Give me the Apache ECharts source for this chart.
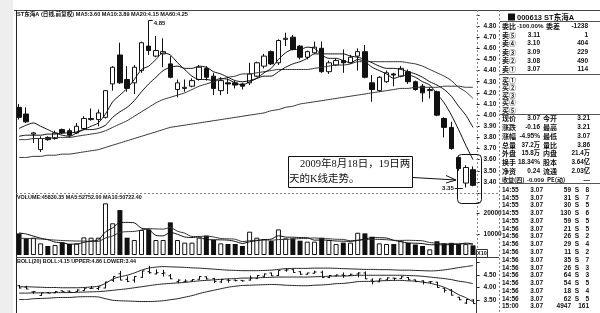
<!DOCTYPE html>
<html><head><meta charset="utf-8">
<script src="https://cdn.jsdelivr.net/npm/echarts@6/dist/echarts.min.js"></script>
<style>html,body{margin:0;padding:0;background:#fff}#c{width:600px;height:313px}</style>
</head><body><div id="c"></div>
<script>
// ---------------- data ----------------
const categories = [
 '2009-05-20','2009-05-21','2009-05-22','2009-05-25','2009-05-26','2009-05-27',
 '2009-06-01','2009-06-02','2009-06-03','2009-06-04','2009-06-05','2009-06-08','2009-06-09','2009-06-10','2009-06-11','2009-06-12',
 '2009-06-15','2009-06-16','2009-06-17','2009-06-18','2009-06-19','2009-06-22','2009-06-23','2009-06-24','2009-06-25','2009-06-26','2009-06-29','2009-06-30',
 '2009-07-01','2009-07-02','2009-07-03','2009-07-06','2009-07-07','2009-07-08','2009-07-09','2009-07-10','2009-07-13','2009-07-14','2009-07-15','2009-07-16','2009-07-17',
 '2009-07-20','2009-07-21','2009-07-22','2009-07-23','2009-07-24','2009-07-27','2009-07-28','2009-07-29','2009-07-30','2009-07-31',
 '2009-08-03','2009-08-04','2009-08-05','2009-08-06','2009-08-07','2009-08-10','2009-08-11','2009-08-12','2009-08-13','2009-08-14','2009-08-17','2009-08-18','2009-08-19'
];
const openP  = [4.07,4.01,3.83,3.69,3.80,3.79,3.87,3.86,3.84,3.88, 3.96,3.96,3.98,4.28,4.54,4.32,4.29,4.40,4.62,4.53,
                4.55,4.46,4.23,4.24,4.26,4.32,4.42,4.35,4.22,4.29, 4.29,4.28,4.29,4.35,4.44,4.57,4.47,4.68,4.70,4.62,
                4.52,4.56,4.60,4.39,4.45,4.49,4.47,4.53,4.57,4.29, 4.22,4.30,4.37,4.35,4.39,4.30,4.26,4.22,4.21,3.97,
                3.89,3.62,3.39,3.51];
const closeP = [3.98,3.94,3.84,3.79,3.78,3.84,3.84,3.82,3.90,3.97, 3.97,4.02,4.22,4.43,4.29,4.24,4.43,4.65,4.58,4.58,
                4.57,4.34,4.29,4.25,4.31,4.43,4.34,4.24,4.31,4.28, 4.27,4.26,4.37,4.47,4.53,4.46,4.67,4.69,4.59,4.52,
                4.57,4.61,4.39,4.47,4.49,4.47,4.52,4.57,4.34,4.23, 4.34,4.38,4.36,4.42,4.30,4.23,4.20,4.23,4.00,3.89,
                3.70,3.52,3.53,3.37];
const lowP   = [3.96,3.93,3.75,3.67,3.77,3.78,3.83,3.80,3.83,3.87, 3.95,3.90,3.97,4.22,4.28,4.21,4.19,4.38,4.54,4.52,
                4.43,4.33,4.16,4.21,4.25,4.31,4.31,4.18,4.18,4.19, 4.24,4.23,4.27,4.34,4.42,4.45,4.45,4.62,4.58,4.50,
                4.50,4.55,4.38,4.37,4.44,4.38,4.46,4.40,4.33,4.12, 4.21,4.29,4.26,4.34,4.28,4.22,4.12,4.15,3.99,3.80,
                3.69,3.50,3.35,3.36];
const highP  = [4.10,4.07,3.85,3.81,3.81,3.86,3.88,3.88,3.93,3.99, 4.06,4.05,4.22,4.44,4.65,4.44,4.45,4.66,4.85,4.71,
                4.69,4.53,4.32,4.32,4.33,4.45,4.44,4.38,4.34,4.33, 4.31,4.29,4.47,4.48,4.55,4.58,4.68,4.74,4.72,4.63,
                4.58,4.66,4.66,4.49,4.51,4.59,4.54,4.60,4.63,4.36, 4.35,4.40,4.38,4.44,4.41,4.31,4.28,4.25,4.22,3.98,
                3.94,3.63,3.55,3.54];
const ma5  = [3.88,3.91,3.93,3.90,3.87,3.84,3.82,3.81,3.84,3.87, 3.90,3.93,4.01,4.12,4.18,4.24,4.32,4.41,4.44,4.50,
              4.56,4.54,4.47,4.41,4.35,4.32,4.32,4.31,4.33,4.32, 4.29,4.27,4.30,4.33,4.38,4.42,4.50,4.56,4.59,4.59,
              4.61,4.60,4.54,4.51,4.51,4.49,4.47,4.50,4.48,4.43, 4.40,4.37,4.33,4.35,4.36,4.34,4.30,4.27,4.19,4.11,
              4.00,3.87,3.73,3.60];
const ma10 = [3.81,3.82,3.82,3.82,3.83,3.83,3.84,3.84,3.85,3.87, 3.87,3.88,3.91,3.98,4.03,4.07,4.13,4.21,4.28,4.34,
              4.40,4.43,4.44,4.42,4.42,4.44,4.43,4.39,4.37,4.34, 4.31,4.30,4.31,4.33,4.35,4.35,4.39,4.43,4.46,4.48,
              4.51,4.55,4.55,4.55,4.55,4.55,4.53,4.52,4.50,4.47, 4.44,4.42,4.42,4.41,4.39,4.37,4.34,4.30,4.27,4.23,
              4.17,4.08,4.00,3.89];
const ma20 = [3.78,3.78,3.79,3.79,3.79,3.80,3.80,3.80,3.81,3.82, 3.83,3.84,3.86,3.89,3.92,3.95,3.99,4.03,4.07,4.11,
              4.14,4.16,4.18,4.20,4.23,4.26,4.28,4.30,4.32,4.34, 4.35,4.37,4.37,4.38,4.39,4.40,4.41,4.41,4.41,4.41,
              4.41,4.42,4.43,4.44,4.45,4.45,4.46,4.48,4.48,4.48, 4.48,4.48,4.48,4.48,4.47,4.46,4.44,4.41,4.38,4.35,
              4.31,4.25,4.21,4.15];
const ma60 = [3.62,3.62,3.63,3.63,3.64,3.64,3.65,3.65,3.66,3.67, 3.68,3.69,3.71,3.73,3.75,3.77,3.79,3.81,3.83,3.85,
              3.87,3.89,3.90,3.91,3.92,3.93,3.94,3.95,3.96,3.97, 3.98,3.99,4.00,4.01,4.02,4.04,4.05,4.07,4.08,4.10,
              4.11,4.12,4.13,4.14,4.15,4.16,4.17,4.18,4.19,4.20, 4.21,4.22,4.23,4.24,4.24,4.25,4.25,4.25,4.25,4.26,
              4.26,4.26,4.25,4.25];
const volume = [10300,7950,8250,5550,4300,4750,6050,5250,5550,8400, 8250,8250,24600,15100,21400,8250,7150,11900,12200,7150,
                7150,15550,7150,5900,5900,8250,9200,7150,5550,5250, 5250,4300,11100,8250,7600,6650,12200,7950,7950,6800,
                6350,6350,8250,7150,5250,5900,5900,10600,10300,8700, 5550,5250,5250,6800,5800,5000,4300,2700,6550,5600,
                5800,5200,5200,4583];
const volMa5 = [10500,10000,9000,8000,7270,6160,5780,5180,5180,6000, 6700,7140,11010,12920,15520,15520,15300,12760,12180,9330,
                9110,10790,9840,8580,8330,8550,7280,7280,7210,7080, 6480,5500,6290,6830,7300,7580,9160,8530,8470,8310,
                8250,7080,7140,6980,6670,6580,6490,6960,7590,8280, 8210,8080,7010,6310,5730,5620,5430,4920,4870,4830,
                4990,5170,5670,5275];
const volMa10 = [8000,7900,7800,7600,7400,7100,6900,6750,6650,6635, 6430,6460,8095,9050,10760,11110,11220,11885,12550,12425,
                 12315,13045,11300,10380,8830,8830,9035,8560,7895,7705, 7515,6390,6785,7020,7190,7030,7330,7410,7650,7805,
                 7915,8120,7835,7725,7490,7415,6785,7050,7285,7475, 7395,7285,6985,6950,7005,6915,6755,5965,5590,5280,
                 5305,5300,5295,5072];
const bollUpper = [4.03,4.03,4.02,4.01,4.00,4.00,3.99,3.99,3.99,4.00, 4.02,4.05,4.16,4.33,4.42,4.48,4.57,4.68,4.76,4.80,
                   4.82,4.81,4.80,4.79,4.77,4.76,4.74,4.72,4.70,4.68, 4.67,4.66,4.66,4.66,4.67,4.68,4.71,4.74,4.75,4.75,
                   4.75,4.76,4.76,4.76,4.75,4.74,4.73,4.72,4.71,4.71, 4.70,4.70,4.69,4.68,4.68,4.67,4.66,4.65,4.66,4.69,
                   4.73,4.78,4.82,4.86];
const bollMid = [3.78,3.78,3.79,3.79,3.79,3.80,3.80,3.80,3.81,3.82, 3.83,3.84,3.86,3.89,3.92,3.95,3.99,4.03,4.07,4.11,
                 4.14,4.16,4.18,4.20,4.23,4.26,4.28,4.30,4.32,4.34, 4.35,4.37,4.37,4.38,4.39,4.40,4.41,4.41,4.41,4.41,
                 4.41,4.42,4.43,4.44,4.45,4.45,4.46,4.48,4.48,4.48, 4.48,4.48,4.48,4.48,4.47,4.46,4.44,4.41,4.38,4.35,
                 4.31,4.25,4.21,4.15];
const bollLower = [3.53,3.53,3.56,3.57,3.58,3.60,3.61,3.61,3.63,3.64, 3.64,3.63,3.56,3.50,3.48,3.47,3.46,3.45,3.45,3.46,
                   3.48,3.52,3.56,3.62,3.68,3.76,3.83,3.89,3.95,4.01, 4.05,4.08,4.09,4.10,4.11,4.12,4.11,4.09,4.08,4.07,
                   4.07,4.09,4.10,4.12,4.15,4.16,4.19,4.23,4.24,4.24, 4.26,4.27,4.28,4.28,4.26,4.25,4.21,4.17,4.10,4.01,
                   3.88,3.72,3.60,3.44];

// texts
const mainTitle = 'ST东海A (日线,前复权) MA5:3.60 MA10:3.89 MA20:4.15 MA60:4.25';
const volTitle = 'VOLUME:45830.35 MA5:52752.00 MA10:50722.40';
const bollTitle = 'BOLL(20) BOLL:4.15 UPPER:4.86 LOWER:3.44';
const noteLines = ['2009年8月18日，19日两', '天的K线走势。'];
const panelHeader = '000613 ST东海A';
const orderRow = ['委比', '-100.00%', '委差', '-1238'];
const sellLabels = ['卖⑤','卖④','卖③','卖②','卖①'];
const sellPrices = ['3.11','3.10','3.09','3.08','3.07'];
const sellVols = ['1','404','229','490','114'];
const buyLabels = ['买①','买②','买③','买④','买⑤'];
const quoteLabels1 = ['现价','涨跌','涨幅','总量','外盘','换手','净资','收益(四)'];
const quoteValues1 = ['3.07','-0.16','-4.95%','37.2万','15.8万','18.34%','0.24','-0.009'];
const quoteLabels2 = ['今开','最高','最低','量比','内盘','股本','流通','PE(动)'];
const quoteValues2 = ['3.21','3.21','3.07','3.86','21.4万','3.64亿','2.03亿','—'];
const tickTimes = ['14:55','14:55','14:55','14:55','14:55','14:56','14:56','14:56','14:56','14:56','14:56','14:56','14:56','14:56','14:56','15:00'];
const tickPrices = ['3.07','3.07','3.07','3.07','3.07','3.07','3.07','3.07','3.07','3.07','3.07','3.07','3.07','3.07','3.07','3.07'];
const tickVols = ['59','31','30','130','59','21','26','29','11','35','26','64','54','18','62','4947'];
const tickSides = ['S','S','S','S','S','S','S','S','S','S','S','S','S','S','S',''];
const tickCounts = ['8','7','5','6','5','5','2','4','2','7','3','3','5','4','5','161'];

// ---------------- chart ----------------
const chart = echarts.init(document.getElementById('c'), null, {renderer:'canvas'});
const L = 15.4, W = 461.2;
const FF = '"Liberation Sans","Noto Sans CJK SC",sans-serif';
const CF = '"Noto Sans CJK SC",sans-serif';
const PF = 'bold 6.5px ' + FF;
const LF = 'bold 7px ' + CF;
const isUp = i => closeP[i] >= openP[i];

function axisLbl(fmt){
  return {margin:7, fontSize:6.5, fontWeight:'bold', color:'#111', fontFamily:FF, formatter:fmt};
}
const yBase = {position:'right', splitLine:{show:false}, axisLine:{show:false},
  axisTick:{show:true, length:3, lineStyle:{color:'#222'}}};

const g = [];
function T(x, y, s, align, font, extra){
  g.push(Object.assign({type:'text', x:x, y:y, silent:true, z:50,
    style:{text:s, font:font||PF, fill:'#111', align:align||'left', verticalAlign:'middle'}}, extra||{}));
}
function Ln(x1,y1,x2,y2,dash,color,w){
  g.push({type:'line', silent:true, z:40, shape:{x1,y1,x2,y2},
    style:{stroke:color||'#333', lineWidth:w||1, lineDash:dash||null}});
}
// frame
g.push({type:'rect', silent:true, z:1, shape:{x:0,y:0,width:13,height:313}, style:{fill:'#eeeeee'}});
Ln(14,10.5,600,10.5,null,'#444');
Ln(16.5,10,16.5,313,null,'#222');
Ln(16,193.5,499,193.5,[2,2],'#888');
Ln(16,257.5,499,257.5,null,'#444');
Ln(477.5,10,477.5,257,[2,2],'#888');
Ln(476.5,257,476.5,313,null,'#333');
Ln(499.5,10,499.5,313,[2,2],'#888');
g.push({type:'rect', silent:true, z:40, shape:{x:476.5,y:249.5,width:11,height:8}, style:{fill:'#fff', stroke:'#333', lineWidth:1}});
T(482, 253.5, 'X10', 'center', 'bold 5.5px '+FF);
// pane titles
T(17, 14.5, mainTitle, 'left', 'bold 5.6px '+FF);
T(17, 197.5, volTitle, 'left', 'bold 5.4px '+FF);
T(17, 261.5, bollTitle, 'left', 'bold 5.4px '+FF);
// annotation
g.push({type:'rect', silent:true, z:60, shape:{x:288.5,y:156.5,width:124,height:31}, style:{fill:'#fff', stroke:'#111', lineWidth:1}});
T(300, 164.5, noteLines[0], 'left', '10.5px "Liberation Serif","Noto Sans CJK SC",serif', {z:61});
T(289, 179, noteLines[1], 'left', '10.5px "Liberation Serif","Noto Sans CJK SC",serif', {z:61});
g.push({type:'polyline', silent:true, z:60, shape:{points:[[413,177.5],[456,180]]}, style:{stroke:'#111', lineWidth:1, fill:null}});
g.push({type:'polyline', silent:true, z:60, shape:{points:[[446,175.5],[456,180],[446,183]]}, style:{stroke:'#111', lineWidth:1, fill:null}});
g.push({type:'rect', silent:true, z:60, shape:{x:457.5,y:154.5,width:24,height:49,r:4}, style:{fill:null, stroke:'#111', lineWidth:1}});
// info panel
g.push({type:'rect', silent:true, z:50, shape:{x:508,y:13.5,width:7,height:7}, style:{fill:'#111'}});
T(517, 17.5, panelHeader, 'left', 'bold 7.5px '+FF);
Ln(500,21.5,600,21.5,null,'#555');
T(502, 26.5, orderRow[0], 'left', LF); T(517, 26.5, orderRow[1], 'left', 'bold 6.2px '+FF); T(546, 26.5, orderRow[2], 'left', LF); T(588, 26.5, orderRow[3], 'right');
sellLabels.forEach((s,k)=>{ const y=35+8.6*k; T(502,y,s,'left',LF); T(540,y,sellPrices[k],'right'); T(588,y,sellVols[k],'right'); });
Ln(500,74.5,600,74.5,null,'#555');
buyLabels.forEach((s,k)=>{ T(502, 80+7.6*k, s, 'left', LF); });
Ln(500,114.5,600,114.5,null,'#555');
quoteLabels1.forEach((s,k)=>{ const y=118.5+8.8*k;
  if (k === 7) {
    T(502,y,s,'left','bold 6px '+CF);
    T(527,y,quoteValues1[k],'left','bold 6px '+FF);
    T(547,y,quoteLabels2[k],'left','bold 6px '+CF);
    T(590,y,quoteValues2[k],'right');
    return;
  }
  T(502,y,s,'left',LF);
  T(540,y,quoteValues1[k],'right', /[万亿]/.test(quoteValues1[k]) ? 'bold 6.3px '+FF : PF);
  T(543,y,quoteLabels2[k],'left',LF);
  T(590,y,quoteValues2[k],'right', /[万亿]/.test(quoteValues2[k]) ? 'bold 6.3px '+FF : PF); });
Ln(500,183.5,600,183.5,null,'#555');
tickTimes.forEach((s,k)=>{ const y=190+7.78*k; T(502,y,s); T(543,y,tickPrices[k],'right'); T(571,y,tickVols[k],'right'); T(577,y,tickSides[k],'center'); T(589,y,tickCounts[k],'right'); });

const xAxes = [0,1,2].map(i=>({type:'category', gridIndex:i, data:categories, boundaryGap:true,
  axisLine:{show:false}, axisTick:{show:false}, axisLabel:{show:false}, splitLine:{show:false}}));

const lineS = (data, xi, color, w) => ({type:'line', xAxisIndex:xi, yAxisIndex:xi, data:data, symbol:'none', showSymbol:false,
  smooth:0.25, silent:true, z:3, lineStyle:{color:color, width:w||1}});

const option = {
  animation:false,
  backgroundColor:'#fff',
  grid:[
    {left:L, width:W, top:14.9, height:178.2},
    {left:L, width:W, top:202.5, height:52.5},
    {left:L, width:W, top:262, height:64}
  ],
  xAxis:xAxes,
  yAxis:[
    Object.assign({gridIndex:0, min:3.3, max:4.9, interval:0.1,
      axisLabel:axisLbl(v => (v < 3.35 || v > 4.85) ? '' : v.toFixed(2))}, yBase),
    Object.assign({gridIndex:1, min:0, max:25000, interval:10000,
      axisLabel:axisLbl(v => (v > 5000 && v < 22000) ? String(Math.round(v)) : '')}, yBase),
    Object.assign({gridIndex:2, min:3.0, max:5.0, interval:0.5,
      axisLabel:axisLbl(v => (v > 3.4 && v < 4.6) ? v.toFixed(2) : '')}, yBase)
  ],
  series:[
    {type:'candlestick', xAxisIndex:0, yAxisIndex:0, barWidth:5, silent:true,
      data:categories.map((c,i)=>[openP[i], closeP[i], lowP[i], highP[i]]),
      itemStyle:{color:'#fff', color0:'#111', borderColor:'#111', borderColor0:'#111', borderWidth:1},
      markPoint:{silent:true, animation:false, data:[
        {coord:[categories[18], 4.85], symbol:'rect', symbolSize:[4,1], symbolOffset:[2,0], itemStyle:{color:'#111'},
          label:{show:true, formatter:'4.85', position:'right', distance:1, offset:[0,3], fontSize:6, fontWeight:'bold', color:'#111', fontFamily:FF}},
        {coord:[categories[62], 3.35], symbol:'rect', symbolSize:[8,1], symbolOffset:[-7,1], itemStyle:{color:'#111'},
          label:{show:true, formatter:'3.35', position:'left', distance:1, fontSize:6, fontWeight:'bold', color:'#111', fontFamily:FF}}
      ]}
    },
    lineS(ma60, 0, '#333', 1),
    lineS(ma20, 0, '#333', 1),
    lineS(ma10, 0, '#111', 1),
    lineS(ma5, 0, '#111', 1),
    {type:'bar', xAxisIndex:1, yAxisIndex:1, barWidth:5, silent:true,
      data:volume.map((v,i)=>({value:v, itemStyle: isUp(i) ? {color:'#fff', borderColor:'#111', borderWidth:1} : {color:'#111'}}))},
    lineS(volMa10, 1, '#333', 1),
    lineS(volMa5, 1, '#111', 1),
    {type:'custom', xAxisIndex:2, yAxisIndex:2, silent:true, z:4,
      data:categories.map((c,i)=>[i, openP[i], closeP[i], lowP[i], highP[i]]),
      encode:{x:0, y:[1,2,3,4]},
      renderItem:function(params, api){
        const i = api.value(0);
        const pO = api.coord([i, api.value(1)]), pC = api.coord([i, api.value(2)]);
        const pL = api.coord([i, api.value(3)]), pH = api.coord([i, api.value(4)]);
        const x = Math.round(pO[0]) + 0.5;
        const st = {stroke:'#111', lineWidth:1};
        return {type:'group', children:[
          {type:'line', shape:{x1:x, y1:pH[1], x2:x, y2:pL[1]}, style:st},
          {type:'line', shape:{x1:x-2, y1:pO[1], x2:x, y2:pO[1]}, style:st},
          {type:'line', shape:{x1:x, y1:pC[1], x2:x+2, y2:pC[1]}, style:st}
        ]};
      }
    },
    lineS(bollUpper, 2, '#222', 1),
    lineS(bollMid, 2, '#222', 1),
    lineS(bollLower, 2, '#222', 1)
  ],
  graphic:{elements:g}
};
chart.setOption(option);
</script>
</body></html>
